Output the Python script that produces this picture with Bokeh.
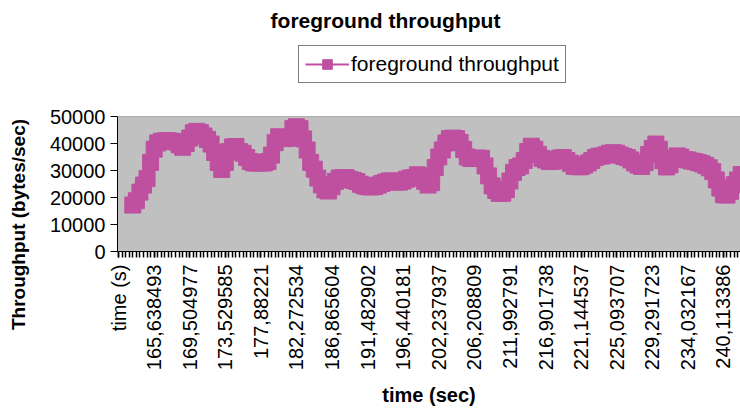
import math

from bokeh.plotting import figure
from bokeh.layouts import column, row
from bokeh.models import (ColumnDataSource, Range1d, FixedTicker, Legend,
                          LegendItem, Label, Span)
from bokeh.embed import file_html
from bokeh.resources import INLINE

# Foreground throughput (bytes/sec), one value per sample, in order
throughput = [
    17200, 18800, 22000, 24600, 27000, 33000, 37900, 40200, 40800, 41000,
    41000, 40800, 40600, 39500, 38600, 40000, 42000, 44000, 44500, 44000,
    42800, 41500, 39800, 36700, 33000, 30400, 33000, 37000, 38700, 38900,
    37000, 36400, 34800, 33300, 32800, 32800, 32800, 32800, 33300, 35700,
    40300, 42500, 42100, 41800, 42200, 45500, 46200, 45500, 41700, 37600,
    33000, 30500, 27200, 24700, 22800, 22400, 24000, 26000, 27200, 27300,
    27300, 26700, 26300, 25900, 24900, 24300, 24000, 23900, 24100, 24600,
    25200, 25700, 26100, 26100, 25700, 25700, 26100, 26800, 27200, 27400,
    28400, 28000, 26000, 24600, 25500, 31100, 35000, 37600, 40200, 41800,
    42000, 41800, 40400, 37800, 35000, 34400, 34500, 34600, 34500, 31700,
    28000, 24300, 22600, 21500, 21600, 22900, 26100, 29300, 31100, 31700,
    33700, 37000, 39000, 37900, 36000, 34500, 33900, 33300, 33400, 33900,
    34600, 34800, 33700, 32700, 31600, 31400, 31400, 32000, 32800, 33700,
    34800, 35300, 35400, 35800, 36400, 36600, 36400, 35700, 35200, 34800,
    33900, 32800, 32000, 31500, 32900, 35900, 38200, 39800, 37900, 33600,
    31300, 32100, 34500, 35400, 35000, 34100, 33900, 33500, 33300, 32900,
    32500, 31900, 31000, 29600, 26500, 23500, 21000, 20900, 22300, 24700,
    26500, 28500,
]
# category index of the first sample (the first category is the column header)
first_sample = 4

# category labels, one every label_step categories
tick_labels = [
    "time (s)", "165,638493", "169,504977", "173,529585", "177,88221",
    "182,272534", "186,865604", "191,482902", "196,440181", "202,237937",
    "206,208809", "211,992791", "216,901738", "221,144537", "225,093707",
    "229,291723", "234,032167", "240,113386",
]
label_step = 10
n_categories = 176

y_ticks = [0, 10000, 20000, 30000, 40000, 50000]

SERIES = "#BF50A0"
FONT = "Liberation Sans"
W, H = 740, 414
STRIP_W = 36        # strip holding the vertical y-axis title
LEFT = 117          # page x of the plot area's left edge
TOP_H = 100         # height of the header strip

samples = list(range(first_sample, first_sample + len(throughput)))
src = ColumnDataSource(dict(x=samples, y=throughput))


def blank_figure(width, height, x_range, y_range, **kw):
    f = figure(width=width, height=height, output_backend="svg",
               toolbar_location=None, x_range=x_range, y_range=y_range,
               min_border=0, x_axis_location=None, y_axis_location=None, **kw)
    f.outline_line_color = None
    f.background_fill_color = "white"
    f.border_fill_color = "white"
    f.grid.visible = False
    return f


# ---- left strip: y-axis title (page pixel coordinates) ----
strip = blank_figure(STRIP_W, H, Range1d(0, STRIP_W), Range1d(H, 0))
strip.add_layout(Label(x=18, y=224, angle=math.pi / 2,
                       text="Throughput (bytes/sec)", text_font=FONT,
                       text_font_size="19px", text_font_style="bold",
                       text_align="center", text_baseline="middle",
                       text_color="black"))

# ---- header strip: chart title and legend (page pixel coordinates) ----
top = blank_figure(W - STRIP_W, TOP_H, Range1d(LEFT, W), Range1d(TOP_H, 0),
                   min_border_left=LEFT - STRIP_W, min_border_right=0)
top.add_layout(Label(x=385, y=20, text="foreground throughput",
                     text_font=FONT, text_font_size="21px",
                     text_font_style="bold", text_align="center",
                     text_baseline="middle", text_color="black"))

# legend glyphs (the series drawn in this strip falls outside its ranges)
leg_line = top.line("x", "y", source=src, line_color=SERIES, line_width=2)
leg_mark = top.scatter("x", "y", source=src, marker="square", size=9,
                       fill_color=SERIES, line_color=SERIES)
legend = Legend(items=[LegendItem(label="foreground throughput",
                                  renderers=[leg_line, leg_mark])],
                location=(298 - LEFT, TOP_H - 83), orientation="vertical",
                border_line_color="black", border_line_width=1,
                background_fill_color="white", background_fill_alpha=1.0,
                padding=6, margin=0, spacing=0,
                glyph_width=44, glyph_height=24, label_height=24,
                label_standoff=2, label_text_font=FONT,
                label_text_font_size="21px", label_text_color="black")
top.add_layout(legend)

# ---- main chart ----
p = figure(width=W - STRIP_W, height=H - TOP_H, output_backend="svg",
           toolbar_location=None,
           x_range=Range1d(-0.3, 174.8), y_range=Range1d(0, 50000),
           min_border_left=LEFT - STRIP_W, min_border_right=0,
           min_border_top=116 - TOP_H, min_border_bottom=163)
p.background_fill_color = "#C0C0C0"
p.border_fill_color = "white"
p.outline_line_color = None
p.xgrid.visible = False
p.ygrid.visible = False

# plot-area top border
p.add_layout(Span(location=50000, dimension="width",
                  line_color="#808080", line_width=1))

# series: thick line with square markers
p.line("x", "y", source=src, line_color=SERIES, line_width=6)
p.scatter("x", "y", source=src, marker="square", size=16,
          fill_color=SERIES, line_color=SERIES)

# x axis: one tick per category, a label every label_step categories
xa = p.xaxis[0]
xa.ticker = FixedTicker(ticks=[i * label_step for i in range(len(tick_labels))],
                        minor_ticks=list(range(n_categories)))
xa.major_label_overrides = {i * label_step: t for i, t in enumerate(tick_labels)}
xa.major_label_orientation = math.pi / 2
xa.major_label_text_font = FONT
xa.major_label_text_font_size = "20px"
xa.major_label_text_color = "black"
xa.major_label_standoff = 7
xa.axis_line_color = "black"
xa.major_tick_line_color = "black"
xa.minor_tick_line_color = "black"
xa.major_tick_line_width = 1.5
xa.minor_tick_line_width = 1.5
xa.major_tick_in = 0
xa.major_tick_out = 6
xa.minor_tick_in = 0
xa.minor_tick_out = 6
xa.axis_label = "time (sec)"
xa.axis_label_text_font = FONT
xa.axis_label_text_font_size = "20px"
xa.axis_label_text_font_style = "bold"
xa.axis_label_text_color = "black"
xa.axis_label_standoff = 11

ya = p.yaxis[0]
ya.ticker = FixedTicker(ticks=y_ticks, minor_ticks=[])
ya.major_label_overrides = {v: str(v) for v in y_ticks}
ya.major_label_text_font = FONT
ya.major_label_text_font_size = "20px"
ya.major_label_text_color = "black"
ya.major_label_standoff = 5
ya.axis_line_color = "black"
ya.major_tick_line_color = "black"
ya.major_tick_in = 0
ya.major_tick_out = 7

layout = row(strip, column(top, p, spacing=0), spacing=0)
open("out.html", "w").write(file_html(layout, INLINE))
